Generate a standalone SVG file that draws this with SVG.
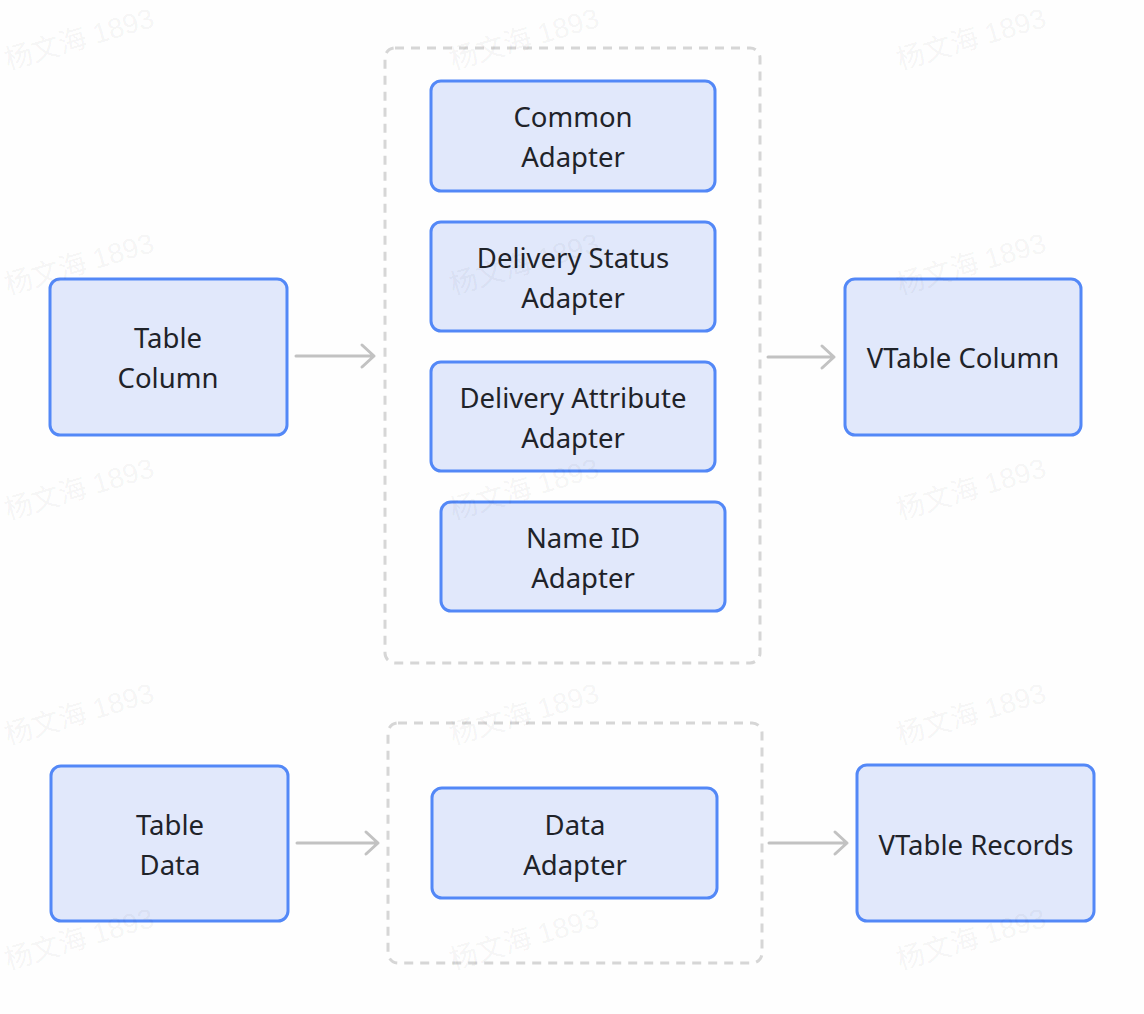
<svg xmlns="http://www.w3.org/2000/svg" width="1144" height="1014" viewBox="0 0 1144 1014">
<defs>
<style>
.wm{font-family:"Liberation Sans","Noto Sans CJK SC",sans-serif;font-size:28px;fill:#000;fill-opacity:0.055}
.node rect{fill:#e1e8fb;stroke:#5388f7;stroke-width:3}
.node text{font-family:"Noto Sans","Noto Sans CJK SC",sans-serif;font-size:27.5px;fill:#1f2329;text-anchor:middle}
.group{fill:none;stroke:#d6d6d6;stroke-width:3;stroke-dasharray:9 7}
.conn{stroke:#c2c2c2;stroke-width:3;fill:none;stroke-linecap:round;stroke-linejoin:round}
</style>
</defs>
<rect width="1144" height="1014" fill="#fefefe"/>
<g id="groups">
<rect id="group-column-adapters" class="group" x="385" y="48" width="375" height="615" rx="10"/>
<rect id="group-data-adapters" class="group" x="388" y="723" width="374" height="240" rx="10"/>
</g>
<g id="connectors">
<path class="conn" d="M296 356H374M362 345L374 356L362 367"/>
<path class="conn" d="M768 357H834M822 346L834 357L822 368"/>
<path class="conn" d="M297 843H378M366 832L378 843L366 854"/>
<path class="conn" d="M769 843H847M835 832L847 843L835 854"/>
</g>
<g id="table-column" class="node"><rect x="50" y="279" width="237" height="156" rx="10"/><text x="168" y="348">Table</text><text x="168" y="388">Column</text></g>
<g id="table-data" class="node"><rect x="51" y="766" width="237" height="155" rx="10"/><text x="170" y="835">Table</text><text x="170" y="875">Data</text></g>
<g id="common-adapter" class="node"><rect x="431" y="81" width="284" height="110" rx="10"/><text x="573" y="127">Common</text><text x="573" y="167">Adapter</text></g>
<g id="delivery-status-adapter" class="node"><rect x="431" y="222" width="284" height="109" rx="10"/><text x="573" y="268">Delivery Status</text><text x="573" y="308">Adapter</text></g>
<g id="delivery-attribute-adapter" class="node"><rect x="431" y="362" width="284" height="109" rx="10"/><text x="573" y="408">Delivery Attribute</text><text x="573" y="448">Adapter</text></g>
<g id="name-id-adapter" class="node"><rect x="441" y="502" width="284" height="109" rx="10"/><text x="583" y="548">Name ID</text><text x="583" y="588">Adapter</text></g>
<g id="data-adapter" class="node"><rect x="432" y="788" width="285" height="110" rx="10"/><text x="575" y="835">Data</text><text x="575" y="875">Adapter</text></g>
<g id="vtable-column" class="node"><rect x="845" y="279" width="236" height="156" rx="10"/><text x="963" y="368">VTable Column</text></g>
<g id="vtable-records" class="node"><rect x="857" y="765" width="237" height="156" rx="10"/><text x="976" y="855">VTable Records</text></g>
<g id="watermarks">
<text class="wm" transform="translate(8,70) rotate(-16.5)">杨文海 1893</text>
<text class="wm" transform="translate(453,70) rotate(-16.5)">杨文海 1893</text>
<text class="wm" transform="translate(900,70) rotate(-16.5)">杨文海 1893</text>
<text class="wm" transform="translate(8,295) rotate(-16.5)">杨文海 1893</text>
<text class="wm" transform="translate(453,295) rotate(-16.5)">杨文海 1893</text>
<text class="wm" transform="translate(900,295) rotate(-16.5)">杨文海 1893</text>
<text class="wm" transform="translate(8,520) rotate(-16.5)">杨文海 1893</text>
<text class="wm" transform="translate(453,520) rotate(-16.5)">杨文海 1893</text>
<text class="wm" transform="translate(900,520) rotate(-16.5)">杨文海 1893</text>
<text class="wm" transform="translate(8,745) rotate(-16.5)">杨文海 1893</text>
<text class="wm" transform="translate(453,745) rotate(-16.5)">杨文海 1893</text>
<text class="wm" transform="translate(900,745) rotate(-16.5)">杨文海 1893</text>
<text class="wm" transform="translate(8,970) rotate(-16.5)">杨文海 1893</text>
<text class="wm" transform="translate(453,970) rotate(-16.5)">杨文海 1893</text>
<text class="wm" transform="translate(900,970) rotate(-16.5)">杨文海 1893</text>
</g>
</svg>
